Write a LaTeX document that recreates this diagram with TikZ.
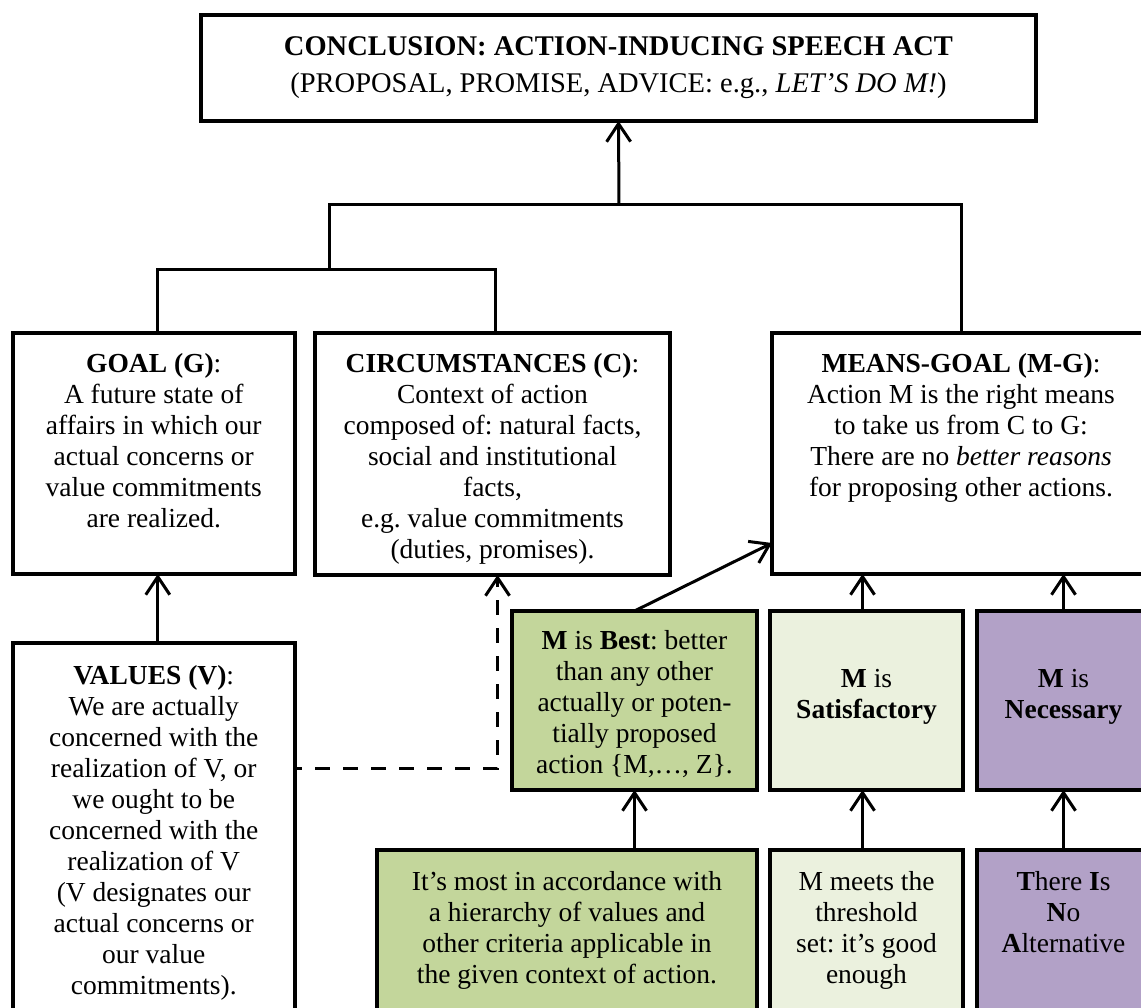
\documentclass[tikz,border=0pt]{standalone}
\usepackage{fontspec}
\setmainfont{Liberation Serif}
\usetikzlibrary{arrows.meta}
\definecolor{bestgreen}{HTML}{C3D69B}
\definecolor{satgreen}{HTML}{EBF1DE}
\definecolor{necpurple}{HTML}{B2A1C7}
\frenchspacing
\begin{document}
\begin{tikzpicture}[x=1pt,y=-1pt,
  box/.style={draw, line width=4pt, rectangle, inner sep=0pt, outer sep=0pt},
  txt/.style={align=center, inner sep=0pt, anchor=north, font=\fontsize{27.5}{31}\selectfont},
  line/.style={line width=3pt},
  arr/.style={line width=3pt, -{Straight Barb[length=18pt,width=24pt]}},
  dasharr/.style={arr, dash pattern=on 15pt off 13pt}]
\path[use as bounding box, fill=white] (0,0) rectangle (1141,1008);
\clip (0,0) rectangle (1141,1008);

% conclusion
\node[box, minimum width=835pt, minimum height=106pt] (concl) at (618.5,68) {};
\node[txt, font=\fontsize{28.5}{37}\selectfont] (conclt) at ([yshift=-21pt]concl.north)
  {\textbf{CONCLUSION: ACTION-INDUCING SPEECH ACT}\\(PROPOSAL, PROMISE, ADVICE: e.g., \textit{LET’S DO M!})};

% premises
\node[box, minimum width=282.5pt, minimum height=241pt] (goal) at (153.75,453.5) {};
\node[txt] (goalt) at ([yshift=-20pt]goal.north)
  {\textbf{GOAL (G)}:\\A future state of\\affairs in which our\\actual concerns or\\value commitments\\are realized.};

\node[box, minimum width=355pt, minimum height=242pt] (circ) at (492.5,454) {};
\node[txt] (circt) at ([yshift=-20pt]circ.north)
  {\textbf{CIRCUMSTANCES (C)}:\\Context of action\\composed of: natural facts,\\social and institutional\\facts,\\e.g. value commitments\\(duties, promises).};

\node[box, minimum width=378pt, minimum height=241pt] (mg) at (961,453.5) {};
\node[txt] (mgt) at ([yshift=-20pt]mg.north)
  {\textbf{MEANS-GOAL (M-G)}:\\Action M is the right means\\to take us from C to G:\\There are no \textit{better reasons}\\for proposing other actions.};

\node[box, minimum width=282.5pt, minimum height=387pt] (values) at (153.75,836.5) {};
\node[txt] (valuest) at ([yshift=-22pt]values.north)
  {\textbf{VALUES (V)}:\\We are actually\\concerned with the\\realization of V, or\\we ought to be\\concerned with the\\realization of V\\(V designates our\\actual concerns or\\our value\\commitments).};

% means-goal support
\node[box, fill=bestgreen, minimum width=245pt, minimum height=179pt] (best) at (634.5,700.5) {};
\node[txt] (bestt) at ([yshift=-19pt]best.north)
  {\textbf{M} is \textbf{Best}: better\\than any other\\actually or poten-\\tially proposed\\action \{M,…, Z\}.};

\node[box, fill=satgreen, minimum width=193pt, minimum height=179pt] (sat) at (866.5,700.5) {};
\node[txt] (satt) at ([yshift=-58pt]sat.north)
  {\textbf{M} is\\\textbf{Satisfactory}};

\node[box, fill=necpurple, minimum width=173pt, minimum height=179pt] (nec) at (1063.5,700.5) {};
\node[txt] (nect) at ([yshift=-58pt]nec.north)
  {\textbf{M} is\\\textbf{Necessary}};

\node[box, fill=bestgreen, minimum width=380pt, minimum height=180pt] (hier) at (567,940) {};
\node[txt] (hiert) at ([yshift=-21pt]hier.north)
  {It’s most in accordance with\\a hierarchy of values and\\other criteria applicable in\\the given context of action.};

\node[box, fill=satgreen, minimum width=193pt, minimum height=180pt] (thr) at (866.5,940) {};
\node[txt] (thrt) at ([yshift=-21pt]thr.north)
  {M meets the\\threshold\\set: it’s good\\enough};

\node[box, fill=necpurple, minimum width=173pt, minimum height=180pt] (tina) at (1063.5,940) {};
\node[txt] (tinat) at ([yshift=-21pt]tina.north)
  {\textbf{T}here \textbf{I}s\\\textbf{N}o\\\textbf{A}lternative};

% tree of premises
\coordinate (ja) at (329,270);
\coordinate (jb) at (619,205);
\draw[line] ([xshift=4pt]goal.north) |- (ja) -| ([xshift=3pt]circ.north);
\draw[line] (ja) |- (jb) -| (mg.north);
\draw[arr] (jb) -- (concl.south);

% support arrows
\draw[arr] ([xshift=4pt]values.north) -- ([xshift=4pt]goal.south);
\coordinate (dashstart) at ([yshift=-125pt,xshift=2pt]values.north east);
\draw[dasharr, dash phase=10pt] (dashstart) -| ([xshift=5pt]circ.south);
\coordinate (mgin) at ([yshift=31pt]mg.south west);
\draw[arr] (best.north) -- (mgin);
\draw[arr] ([xshift=-4pt]sat.north) -- ([xshift=-4pt]sat.north |- mg.south);
\draw[arr] (nec.north) -- (nec.north |- mg.south);
\draw[arr] (hier.north -| best.south) -- (best.south);
\draw[arr] ([xshift=-4pt]thr.north) -- ([xshift=-4pt]sat.south);
\draw[arr] (tina.north) -- (nec.south);
\end{tikzpicture}
\end{document}
